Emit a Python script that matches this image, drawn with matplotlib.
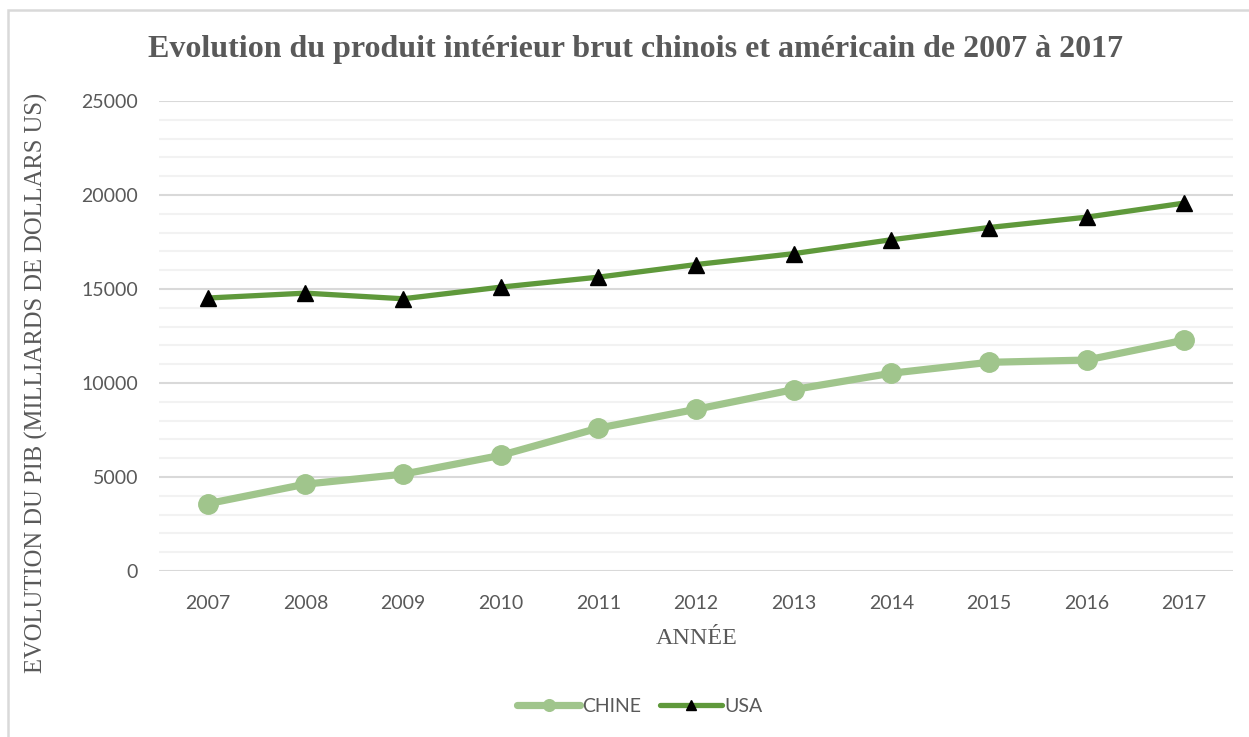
import matplotlib
matplotlib.use("Agg")
import matplotlib.pyplot as plt
from matplotlib.ticker import MultipleLocator
from matplotlib.patches import Rectangle

years = [2007, 2008, 2009, 2010, 2011, 2012, 2013, 2014, 2015, 2016, 2017]
chine = [3580, 4620, 5150, 6150, 7600, 8600, 9650, 10520, 11100, 11220, 12280]
usa = [14520, 14780, 14480, 15100, 15630, 16300, 16880, 17620, 18270, 18820, 19570]
year_labels = [str(y) for y in years]

title = "Evolution du produit intérieur brut chinois et américain de 2007 à 2017"
ylabel = "EVOLUTION DU PIB (MILLIARDS DE DOLLARS US)"
xlabel = "ANNÉE"

TXT = "#595959"
SERIF = ["Liberation Serif", "DejaVu Serif"]
SANS = ["Lato", "Open Sans", "DejaVu Sans"]

fig = plt.figure(figsize=(12.49, 7.37), dpi=100)
fig.patch.set_facecolor("white")

# chart frame
fig.patches.append(Rectangle((8 / 1249, -0.01), 1.02, (737 - 10) / 737 + 0.01,
                             transform=fig.transFigure, fill=False,
                             edgecolor="#d9d9d9", linewidth=1.8, zorder=0))

ax = fig.add_axes([159 / 1249, (737 - 571) / 737, (1233 - 159) / 1249, 470 / 737])
ax.set_xlim(2006.5, 2017.5)
ax.set_ylim(0, 25000)

ax.yaxis.set_major_locator(MultipleLocator(5000))
ax.yaxis.set_minor_locator(MultipleLocator(1000))
ax.grid(which="minor", axis="y", color="#f2f2f2", linewidth=1.5, zorder=0)
ax.grid(which="major", axis="y", color="#d9d9d9", linewidth=1.5, zorder=0)
ax.set_axisbelow(True)
for s in ax.spines.values():
    s.set_visible(False)
ax.tick_params(axis="both", which="both", length=0)
ax.set_xticks(years)
ax.set_xticklabels(year_labels)
for lab in ax.get_xticklabels() + ax.get_yticklabels():
    lab.set_family(SANS)
    lab.set_fontsize(14)
    lab.set_color(TXT)
ax.tick_params(axis="x", pad=17)
ax.tick_params(axis="y", pad=15)

ax.plot(years, chine, color="#a0c58c", linewidth=5.2, marker="o", markersize=14,
        solid_capstyle="round", label="CHINE", zorder=3)
ax.plot(years, usa, color="#5f993b", linewidth=3.8, marker="^", markersize=12,
        markerfacecolor="black", markeredgecolor="black", solid_capstyle="round",
        label="USA", zorder=4)

fig.text(635 / 1249, 1 - 50 / 737, title, ha="center", va="center",
         family=SERIF, fontsize=23, fontweight="bold", color=TXT)
fig.text(36 / 1249, 1 - 383 / 737, ylabel, ha="center", va="center", rotation=90,
         family=SERIF, fontsize=17.7, color=TXT)
fig.text(697 / 1249, 1 - 638 / 737, xlabel, ha="center", va="center",
         family=SERIF, fontsize=17.3, color=TXT)

leg = fig.legend(loc="center", bbox_to_anchor=(640 / 1249, 1 - 706 / 737), ncol=2,
                 frameon=False, prop={"family": SANS, "size": 14},
                 handlelength=3.2, columnspacing=1.0, handletextpad=0.1,
                 markerscale=0.6)
for t in leg.get_texts():
    t.set_color(TXT)

fig.savefig("out.png", dpi=100, facecolor="white")
